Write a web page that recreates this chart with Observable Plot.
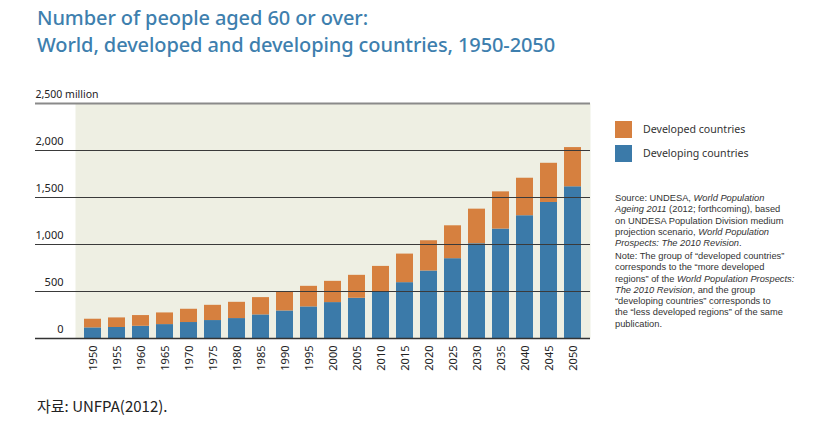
<!DOCTYPE html>
<html><head><meta charset="utf-8">
<script src="https://cdn.jsdelivr.net/npm/d3@7"></script>
<script src="https://cdn.jsdelivr.net/npm/@observablehq/plot@0.6"></script>
<style>
body{margin:0;background:#fff;font-family:"Noto Sans",sans-serif;}
#wrap{position:relative;width:813px;height:433px;overflow:hidden;}
#title{position:absolute;left:37px;top:4px;color:#3e7fae;font-size:20px;font-weight:500;line-height:27px;font-family:"Noto Sans",sans-serif;letter-spacing:-0.1px;}
#chart{position:absolute;left:0;top:80px;}
#legend{position:absolute;left:615px;top:117px;font-size:10.6px;color:#333;}
.li{display:flex;align-items:center;height:24px;}
.sw{width:17px;height:17px;margin-right:11px;}
#notes{position:absolute;left:615px;top:193px;width:200px;font-family:"Liberation Sans",Arial,sans-serif;font-size:9.3px;line-height:11.3px;color:#333;}
#notes p{margin:0 0 1.5px 0;}
#foot{position:absolute;left:37px;top:395px;font-size:15px;color:#222;font-family:"Noto Sans CJK KR","Noto Sans",sans-serif;}
</style></head>
<body>
<div id="wrap">
<div id="title">Number of people aged 60 or over:<br>World, developed and developing countries, 1950-2050</div>
<div id="chart"></div>
<div id="legend"></div>
<div id="notes">
<p>Source: UNDESA, <i>World Population</i><br><i>Ageing 2011</i> (2012; forthcoming), based<br>on UNDESA Population Division medium<br>projection scenario, <i>World Population</i><br><i>Prospects: The 2010 Revision</i>.</p>
<p>Note: The group of “developed countries”<br>corresponds to the “more developed<br>regions” of the <i>World Population Prospects:</i><br><i>The 2010 Revision</i>, and the group<br>“developing countries” corresponds to<br>the “less developed regions” of the same<br>publication.</p>
</div>
<div id="foot">자료: UNFPA(2012).</div>
</div>
<script>
const years = ["1950","1955","1960","1965","1970","1975","1980","1985","1990","1995","2000","2005","2010","2015","2020","2025","2030","2035","2040","2045","2050"];
const developing = [113,117,130,148,170,191,212,251,293,336,382,428,499,594,718,849,1008,1164,1306,1447,1614];
const developed = [92,102,114,124,141,162,173,184,198,219,226,244,268,304,322,350,368,396,399,417,417];
const seriesNames = ["Developed countries","Developing countries"];
const seriesColors = ["#d6803f","#3b7aa9"];
const yTicks = [0,500,1000,1500,2000];

const data = [];
years.forEach((y,i)=>{
  data.push({year:y, series:"Developing countries", value:developing[i]});
  data.push({year:y, series:"Developed countries", value:developed[i]});
});

const chart = Plot.plot({
  width: 813, height: 300,
  marginLeft: 75, marginRight: 223, marginTop: 23, marginBottom: 42,
  style: {fontFamily: "Noto Sans, sans-serif", fontSize: "11px", color: "#222", background: "transparent"},
  x: {type: "band", domain: years, paddingInner: 0.3, paddingOuter: 0, label: null},
  y: {domain: [0,2500], label: null},
  color: {domain: seriesNames, range: seriesColors},
  marks: [
    Plot.frame({fill: "#eeefe3", stroke: null}),
    Plot.barY(data, {x: "year", y: "value", fill: "series", order: null}),
    Plot.ruleY(yTicks.filter(d=>d>0), {stroke: "#3a3a3a", strokeWidth: 1, insetLeft: -40}),
    Plot.ruleY([2500], {stroke: "#8a8a8a", strokeWidth: 2, insetLeft: -40}),
    Plot.ruleY([0], {stroke: "#333", strokeWidth: 1.5, insetLeft: -40}),
    Plot.text(yTicks, {y: d=>d, text: d=>d3.format(",")(d), frameAnchor: "left", textAnchor: "end", dx: -12, dy: -9, fill: "#222", fontSize: 11}),
    Plot.text([2500], {y: d=>d, text: d=>d3.format(",")(d)+" million", frameAnchor: "left", textAnchor: "start", dx: -40, dy: -9, fill: "#222", fontSize: 10.5}),
    Plot.axisX({tickRotate: -90, tickSize: 0, tickPadding: 7, fontSize: 11, label: null}),
    Plot.axisY({ticks: [], label: null})
  ]
});
document.getElementById("chart").appendChild(chart);

const leg = document.getElementById("legend");
seriesNames.forEach((n,i)=>{
  const row = document.createElement("div"); row.className="li";
  const sw = document.createElement("div"); sw.className="sw"; sw.style.background = seriesColors[i];
  const t = document.createElement("span"); t.textContent = n;
  row.appendChild(sw); row.appendChild(t); leg.appendChild(row);
});
</script>
</body></html>
